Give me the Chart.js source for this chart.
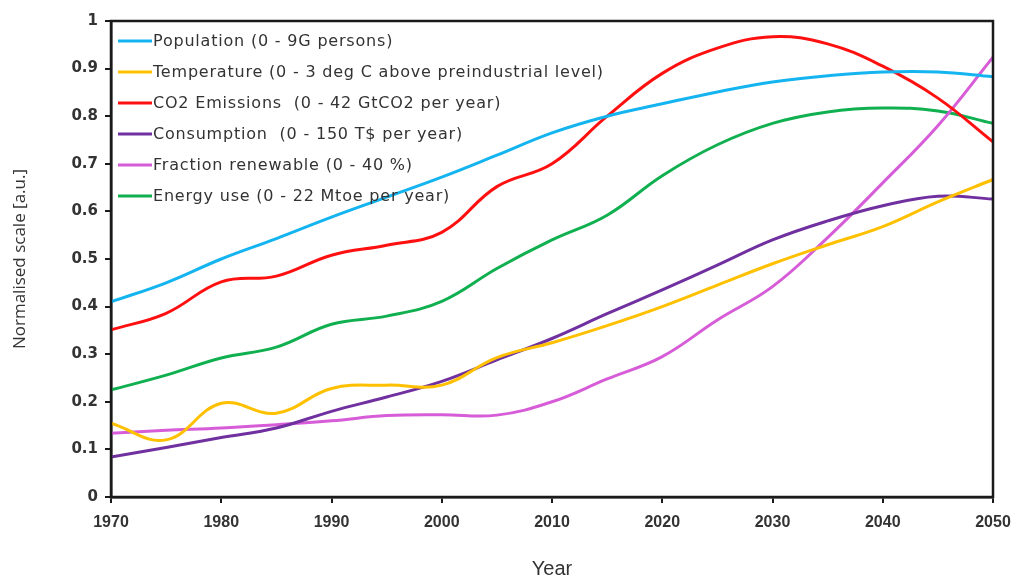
<!DOCTYPE html>
<html>
<head>
<meta charset="utf-8">
<script src="https://cdn.jsdelivr.net/npm/chart.js@4/dist/chart.umd.min.js"></script>
<style>
  html, body { margin: 0; padding: 0; background: #fff; }
  #wrap { width: 1020px; height: 578px; }
</style>
</head>
<body>
<div id="wrap"><canvas id="c" width="1020" height="578"></canvas></div>
<script>
// Years sampled every 5 years, 1970–2050
const years = [1970, 1975, 1980, 1985, 1990, 1995, 2000, 2005, 2010, 2015, 2020, 2025, 2030, 2035, 2040, 2045, 2050];

// Normalised series (each divided by the range shown in its label)
const population  = [0.410, 0.450, 0.500, 0.543, 0.588, 0.630, 0.672, 0.718, 0.765, 0.800, 0.826, 0.851, 0.872, 0.885, 0.893, 0.893, 0.883];
const temperature = [0.155, 0.120, 0.197, 0.176, 0.228, 0.235, 0.235, 0.293, 0.324, 0.360, 0.400, 0.445, 0.490, 0.530, 0.568, 0.620, 0.667];
const emissions   = [0.351, 0.386, 0.452, 0.464, 0.508, 0.529, 0.556, 0.652, 0.700, 0.800, 0.890, 0.943, 0.967, 0.952, 0.905, 0.838, 0.746];
const consumption = [0.084, 0.104, 0.125, 0.145, 0.180, 0.210, 0.243, 0.288, 0.333, 0.385, 0.435, 0.487, 0.540, 0.580, 0.612, 0.632, 0.626];
const renewable   = [0.134, 0.140, 0.145, 0.152, 0.160, 0.171, 0.173, 0.172, 0.200, 0.248, 0.295, 0.372, 0.442, 0.545, 0.660, 0.780, 0.924];
const energyUse   = [0.225, 0.256, 0.292, 0.315, 0.363, 0.380, 0.411, 0.480, 0.540, 0.592, 0.675, 0.740, 0.785, 0.809, 0.817, 0.811, 0.785];

const seriesLabels = [
  'Population (0 - 9G persons)',
  'Temperature (0 - 3 deg C above preindustrial level)',
  'CO2 Emissions  (0 - 42 GtCO2 per year)',
  'Consumption  (0 - 150 T$ per year)',
  'Fraction renewable (0 - 40 %)',
  'Energy use (0 - 22 Mtoe per year)'
];
const seriesValues = [population, temperature, emissions, consumption, renewable, energyUse];
const seriesColors = ['#14B4F0', '#FFC000', '#FF1010', '#7030A0', '#D65CD8', '#10B050'];

const yTicks = [0, 0.1, 0.2, 0.3, 0.4, 0.5, 0.6, 0.7, 0.8, 0.9, 1];
const xTicks = [1970, 1980, 1990, 2000, 2010, 2020, 2030, 2040, 2050];

const TEXT = '#333333';

// Box around the plot area
const framePlugin = {
  id: 'frame',
  afterDatasetsDraw(chart) {
    const { ctx, chartArea: a } = chart;
    ctx.save();
    ctx.strokeStyle = '#1a1a1a';
    ctx.lineWidth = 2.5;
    ctx.strokeRect(a.left, a.top, a.right - a.left, a.bottom - a.top);
    ctx.restore();
  }
};

// Legend drawn inside the top-left corner of the plot area
const innerLegend = {
  id: 'innerLegend',
  afterDatasetsDraw(chart) {
    const { ctx, chartArea: a } = chart;
    ctx.save();
    ctx.font = '16px "DejaVu Sans"';
    if ('letterSpacing' in ctx) ctx.letterSpacing = '0.8px';
    ctx.textBaseline = 'middle';
    ctx.textAlign = 'left';
    chart.data.datasets.forEach((ds, i) => {
      const y = a.top + 20 + i * 31;
      ctx.strokeStyle = ds.borderColor;
      ctx.lineWidth = 3;
      ctx.beginPath();
      ctx.moveTo(a.left + 7, y);
      ctx.lineTo(a.left + 41, y);
      ctx.stroke();
      ctx.fillStyle = TEXT;
      ctx.fillText(ds.label, a.left + 42, y + 1);
    });
    ctx.restore();
  }
};

new Chart(document.getElementById('c'), {
  type: 'line',
  data: {
    datasets: seriesLabels.map((label, i) => ({
      label,
      data: years.map((yr, k) => ({ x: yr, y: seriesValues[i][k] })),
      borderColor: seriesColors[i],
      backgroundColor: seriesColors[i],
      borderWidth: 3,
      pointRadius: 0,
      tension: 0.4,
      fill: false
    }))
  },
  options: {
    responsive: false,
    animation: false,
    layout: { padding: { top: 21, right: 27, left: 0, bottom: 0 } },
    plugins: { legend: { display: false }, tooltip: { enabled: false } },
    scales: {
      x: {
        type: 'linear',
        min: 1970,
        max: 2050,
        afterBuildTicks(scale) { scale.ticks = xTicks.map(v => ({ value: v })); },
        afterFit(scale) {
          scale.height = 81;
          scale.paddingLeft = 0;
          scale.paddingRight = 0;
        },
        grid: { drawOnChartArea: false, color: '#1a1a1a', lineWidth: 2, tickLength: 6 },
        border: { display: true, color: '#1a1a1a', width: 2.5 },
        ticks: {
          color: TEXT,
          padding: 10,
          maxRotation: 0,
          font: { family: '"Liberation Sans"', size: 16, weight: 'bold' },
          callback: v => String(v)
        },
        title: {
          display: true,
          text: 'Year',
          color: TEXT,
          font: { family: '"Liberation Sans"', size: 20 },
          padding: { top: 0, bottom: -3 }
        }
      },
      y: {
        min: 0,
        max: 1,
        afterBuildTicks(scale) { scale.ticks = yTicks.map(v => ({ value: v })); },
        afterFit(scale) {
          scale.width = 111;
          scale.paddingTop = 0;
          scale.paddingBottom = 0;
        },
        grid: { drawOnChartArea: false, color: '#1a1a1a', lineWidth: 2, tickLength: 6 },
        border: { display: true, color: '#1a1a1a', width: 2.5 },
        ticks: {
          color: TEXT,
          padding: 7,
          font: { family: '"DejaVu Sans"', size: 15, weight: 'bold' },
          callback: v => String(Math.round(v * 10) / 10)
        },
        title: {
          display: true,
          text: 'Normalised scale [a.u.]',
          color: TEXT,
          font: { family: '"Open Sans"', size: 17 },
          padding: { top: 10, bottom: 0 }
        }
      }
    }
  },
  plugins: [framePlugin, innerLegend]
});
</script>
</body>
</html>
